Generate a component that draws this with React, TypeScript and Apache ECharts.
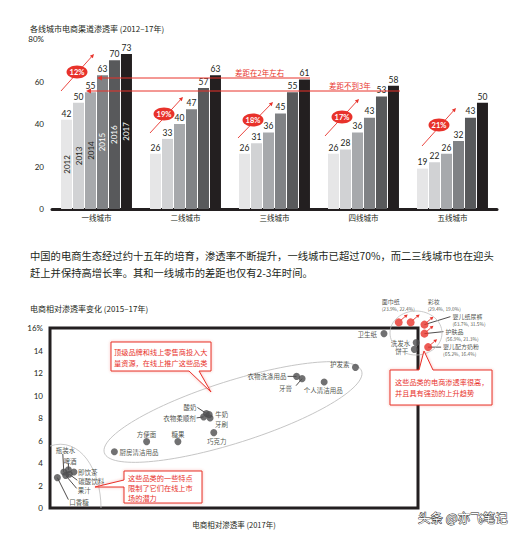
import React, { useEffect, useRef } from 'react';
import * as echarts from 'echarts';

// ---------- top chart data ----------
const cities = ['一线城市', '二线城市', '三线城市', '四线城市', '五线城市'];
const years = ['2012', '2013', '2014', '2015', '2016', '2017'];
const v2012 = [42, 26, 26, 26, 19];
const v2013 = [50, 33, 31, 28, 22];
const v2014 = [55, 40, 36, 36, 26];
const v2015 = [63, 47, 45, 43, 32];
const v2016 = [70, 57, 55, 53, 43];
const v2017 = [73, 63, 61, 58, 50];
const growthLabels = ['12%', '19%', '18%', '17%', '21%'];
const gapNotes = ['差距在2年左右', '差距不到3年'];

// ---------- bottom chart data ----------
const grayNames = ['卫生纸', '洗发水', '饼干', '护发素', '衣物洗涤用品', '牙膏', '个人清洁用品', '酸奶', '衣物柔顺剂', '牛奶', '牙刷', '巧克力', '方便面', '糖果', '厨房清洁用品', '瓶装水', '啤酒', '即饮茶', '碳酸饮料', '果汁', '口香糖'];
const grayX = [36.3, 39.8, 39.6, 33.2, 26.8, 27.4, 29.8, 17.0, 16.7, 17.3, 17.4, 17.8, 10.5, 13.9, 7.0, 1.5, 2.0, 2.6, 2.1, 1.7, 0.8];
const grayY = [15.5, 14.7, 14.1, 12.5, 11.7, 11.5, 11.2, 8.4, 8.1, 8.3, 8.0, 6.7, 5.9, 5.9, 5.0, 3.2, 3.4, 3.2, 3.0, 2.9, 2.7];
const redNames = ['面巾纸', '彩妆', '婴儿纸尿裤', '护肤品', '婴儿配方奶粉'];
const redX = [37.9, 39.2, 40.7, 40.7, 41.1];
const redY = [16.5, 16.5, 16.3, 15.5, 14.3];
const redStats = ['(23.9%, 22.4%)', '(29.4%, 19.0%)', '(63.7%, 31.5%)', '(56.9%, 21.3%)', '(65.2%, 16.4%)'];

// ---------- styles ----------
const RED = '#e8322b';
const INK = '#231f20';
const FONT = "'Noto Sans CJK SC', 'Noto Sans', sans-serif";
const NUMFONT = "Lato, 'Noto Sans CJK SC', sans-serif";
const barColors = ['#e6e6e7', '#d1d2d4', '#a7a9ac', '#808285', '#58595b', '#231f20'];
const yearTextColors = [INK, INK, INK, '#ffffff', '#ffffff', '#ffffff'];

// label offsets for gray points: [dx, dy, align, leaderX, leaderY] (leader null = none)
const grayLabelStyle: any[] = [
  [-7, 0, 'right', null, null],
  [-6, 0, 'right', null, null],
  [-6, 2, 'right', null, null],
  [-6, -3, 'right', null, null],
  [-10, 0, 'right', -9, 0],
  [-10, 9, 'right', -6, 7],
  [-1, 8, 'center', null, null],
  [-10, -7, 'right', -9, -6],
  [-8, 1, 'right', -7, 1],
  [6, -1, 'left', null, null],
  [5, 6, 'left', null, null],
  [3, 8, 'center', null, null],
  [0, -8, 'center', null, null],
  [0, -8, 'center', null, null],
  [5, 0, 'left', null, null],
  [-8, -22, 'left', -1, -18],
  [-5, -9, 'left', 0, -6],
  [4, 0, 'left', null, null],
  [9, 7, 'left', 8, 6],
  [12, 15, 'left', 11, 13],
  [12, 24, 'left', 11, 22],
];
// red label: [dx, dy (top-left of text block), leaderX, leaderY]
const redLabelStyle: any[] = [
  [-17, -24.5, null, null],
  [17, -24.5, null, null],
  [28, -12, 26, -8],
  [21, -6, 19, -2],
  [15, -4.5, 13, 0],
];
// badge/arrow layout for growth annotations (pixels)
const badgePos = [[77, 72], [164, 114], [253, 120], [342, 117], [439, 125]];
const badgeArrows = [[61, 91, 94, 54], [150, 133, 183, 97], [238, 138, 273, 102], [325, 136, 359, 99], [422, 146, 456, 108]];

function arrowEls(x1: number, y1: number, x2: number, y2: number, lw = 0.9, hl = 4, hw = 2.2) {
  const dx = x2 - x1, dy = y2 - y1, L = Math.hypot(dx, dy);
  const ux = dx / L, uy = dy / L;
  const bx = x2 - ux * hl, by = y2 - uy * hl;
  return [
    { type: 'line', z: 20, shape: { x1, y1, x2: bx, y2: by }, style: { stroke: RED, lineWidth: lw } },
    { type: 'polygon', z: 20, shape: { points: [[x2, y2], [bx - uy * hw, by + ux * hw], [bx + uy * hw, by - ux * hw]] }, style: { fill: RED } },
  ];
}

function txt(text: string, x: number, y: number, size: number, fill = INK, align = 'left', extra: any = {}) {
  return { type: 'text', z: 30, x, y, style: { text, fill, fontSize: size, fontFamily: FONT, align, verticalAlign: 'middle', ...extra } };
}

function callout(points: number[][], lines: string[], tx: number, ty: number, lh: number) {
  const els: any[] = [
    { type: 'polygon', z: 40, shape: { points }, style: { fill: '#ffffff', stroke: RED, lineWidth: 1, shadowBlur: 3, shadowColor: 'rgba(232,50,43,0.35)' } },
  ];
  lines.forEach((l, i) => els.push({ ...txt(l, tx, ty + i * lh, 7.2, RED), z: 41 }));
  return els;
}

export default function App() {
  const ref = useRef<HTMLDivElement>(null);
  useEffect(() => {
    const chart = echarts.init(ref.current!, undefined, { renderer: 'svg' });
    const yearVals = [v2012, v2013, v2014, v2015, v2016, v2017];
    const barSeries = years.map((y, i) => ({
      type: 'bar', name: y, xAxisIndex: 0, yAxisIndex: 0, data: yearVals[i],
      barWidth: 11, barGap: '9%', itemStyle: { color: barColors[i] },
      label: { show: true, position: 'top', distance: 2, fontSize: 8.5, color: INK, fontFamily: NUMFONT },
    }));
    const yearSeries = years.map((y, i) => ({
      type: 'bar', name: y + 'l', xAxisIndex: 1, yAxisIndex: 0,
      data: yearVals[i].map((v, j) => (j === 0 ? v : '-')),
      barWidth: 11, barGap: '9%', itemStyle: { color: 'rgba(0,0,0,0)' }, silent: true, z: 5,
      label: { show: true, position: 'inside', rotate: 90, formatter: y, fontSize: 8, color: yearTextColors[i], fontFamily: NUMFONT },
    }));
    const grayData = grayNames.map((n, i) => {
      const s = grayLabelStyle[i];
      return {
        name: n, value: [grayX[i], grayY[i]],
        label: { show: true, formatter: n, position: [3.5 + s[0], 3.5 + s[1]], align: s[2], verticalAlign: 'middle' },
      };
    });
    const redData = redNames.map((n, i) => {
      const s = redLabelStyle[i];
      return {
        name: n, value: [redX[i], redY[i]],
        label: { show: true, formatter: `{n|${n}}\n{c|${redStats[i]}}`, position: [4 + s[0], 4 + s[1]], align: 'left', verticalAlign: 'top' },
      };
    });

    const option: any = {
      animation: false,
      backgroundColor: '#ffffff',
      textStyle: { fontFamily: FONT },
      grid: [
        { left: 52, top: 39, width: 445, height: 170 },
        { left: 50, top: 328, width: 368, height: 180, show: true, borderColor: INK, borderWidth: 3, backgroundColor: 'transparent' },
      ],
      xAxis: [
        {
          type: 'category', gridIndex: 0, data: cities,
          axisLine: { lineStyle: { color: INK, width: 3 } }, axisTick: { show: false },
          axisLabel: { fontSize: 7.5, color: INK, margin: 5, fontFamily: FONT },
        },
        { type: 'category', gridIndex: 0, data: cities, show: false },
        {
          type: 'value', gridIndex: 1, min: 0, max: 40,
          axisLine: { show: false }, axisTick: { show: false }, axisLabel: { show: false }, splitLine: { show: false },
          name: '电商相对渗透率 (2017年)', nameLocation: 'middle', nameGap: 13,
          nameTextStyle: { fontSize: 7.5, color: INK, fontFamily: FONT },
        },
      ],
      yAxis: [
        {
          type: 'value', gridIndex: 0, min: 0, max: 80, interval: 20,
          axisLine: { show: false }, axisTick: { show: false }, splitLine: { show: false },
          axisLabel: { fontSize: 8, color: INK, margin: 8, fontFamily: NUMFONT, formatter: (v: number) => (v === 80 ? '80%' : String(v)) },
        },
        {
          type: 'value', gridIndex: 1, min: 0, max: 16, interval: 2,
          axisLine: { show: false }, axisTick: { show: false }, splitLine: { show: false },
          axisLabel: { fontSize: 8, color: INK, margin: 7, fontFamily: NUMFONT, formatter: (v: number) => (v === 16 ? '16%' : String(v)) },
        },
      ],
      series: [
        ...barSeries,
        ...yearSeries,
        {
          type: 'scatter', name: 'gray', xAxisIndex: 2, yAxisIndex: 1, symbolSize: 7, z: 10,
          itemStyle: { color: '#4d4d4f' }, data: grayData,
          label: { fontSize: 6.5, color: INK, fontFamily: FONT },
        },
        {
          type: 'scatter', name: 'red', xAxisIndex: 2, yAxisIndex: 1, symbolSize: 8, clip: false, z: 12,
          itemStyle: { color: RED }, data: redData,
          label: {
            color: INK, fontFamily: FONT,
            rich: { n: { fontSize: 6, lineHeight: 7.6, color: INK }, c: { fontSize: 4.8, lineHeight: 6.6, color: INK } },
          },
        },
      ],
    };
    chart.setOption(option);

    const px = (x: number, y: number) => chart.convertToPixel({ gridIndex: 1 } as any, [x, y]) as number[];
    const els: any[] = [];
    // titles and paragraph
    els.push(txt('各线城市电商渠道渗透率 (2012–17年)', 30, 28, 8));
    els.push(txt('中国的电商生态经过约十五年的培育，渗透率不断提升，一线城市已超过70%，而二三线城市也在迎头', 30, 255, 10.3));
    els.push(txt('赶上并保持高增长率。其和一线城市的差距也仅有2-3年时间。', 30, 272, 10.3));
    els.push(txt('电商相对渗透率变化 (2015–17年)', 30, 308, 8));
    // gap lines
    els.push(...arrowEls(310, 78, 97, 78, 1, 5, 2.5));
    els.push(...arrowEls(400, 91, 86, 91, 1, 5, 2.5));
    els.push(txt(gapNotes[0], 235, 72, 7.5, RED));
    els.push(txt(gapNotes[1], 329, 85, 7.5, RED));
    // growth badges
    badgeArrows.forEach((a) => els.push(...arrowEls(a[0], a[1], a[2], a[3], 0.9, 4, 2)));
    badgePos.forEach((p, i) => {
      els.push({ type: 'ellipse', z: 25, shape: { cx: p[0], cy: p[1], rx: 10.5, ry: 6.5 }, style: { fill: RED } });
      els.push({ ...txt(growthLabels[i], p[0], p[1], 7.5, '#ffffff', 'center', { fontWeight: 'bold', fontFamily: NUMFONT }), z: 26 });
    });
    // ellipses in scatter
    els.push({ type: 'ellipse', z: 1, x: 233, y: 412, rotation: 0.307, shape: { cx: 0, cy: 0, rx: 135, ry: 31 }, style: { fill: 'none', stroke: '#bdbdbd', lineWidth: 0.8 } });
    els.push({ type: 'bezierCurve', z: 1, shape: { x1: 50, y1: 446, cpx1: 80, cpy1: 436, cpx2: 101, cpy2: 470, x2: 101, y2: 508 }, style: { fill: 'none', stroke: '#bdbdbd', lineWidth: 0.8 } });
    els.push({ type: 'ellipse', z: 15, shape: { cx: 416, cy: 333, rx: 26, ry: 22 }, style: { fill: 'none', stroke: '#bdbdbd', lineWidth: 0.8 } });
    // leader lines for gray points
    grayNames.forEach((_, i) => {
      const s = grayLabelStyle[i];
      if (s[3] === null) return;
      const p = px(grayX[i], grayY[i]);
      els.push({ type: 'line', z: 9, shape: { x1: p[0], y1: p[1], x2: p[0] + s[3], y2: p[1] + s[4] }, style: { stroke: INK, lineWidth: 0.8 } });
    });
    // red points: arrows and leaders
    redNames.forEach((_, i) => {
      const p = px(redX[i], redY[i]);
      els.push(...arrowEls(p[0] + 2, p[1] - 2, p[0] + 9, p[1] - 8, 0.9, 3.5, 1.8).map((e) => ({ ...e, z: 13 })));
      const s = redLabelStyle[i];
      if (s[2] !== null) {
        els.push({ type: 'line', z: 9, shape: { x1: p[0], y1: p[1], x2: p[0] + s[2], y2: p[1] + s[3] }, style: { stroke: INK, lineWidth: 0.8 } });
      }
    });
    // callouts
    els.push(...callout([[111, 342], [211, 342], [211, 371], [199, 371], [211, 392], [189, 371], [111, 371]],
      ['顶级品牌和线上零售商投入大', '量资源，在线上推广这些品类'], 114, 352, 10.5));
    els.push(...callout([[390, 370], [419, 370], [424, 351], [433, 370], [492, 370], [492, 405], [390, 405]],
      ['这些品类的电商渗透率很高，', '并且具有强劲的上升趋势'], 395, 382, 10.5));
    els.push(...callout([[124, 471], [202, 471], [202, 503], [124, 503], [124, 487], [95, 487], [124, 480]],
      ['这些品类的一些特点', '限制了它们在线上市', '场的潜力'], 128, 478, 9.8));
    // watermark
    els.push({ type: 'text', z: 50, x: 418, y: 517, style: { text: '头条 @亦飞笔记', fill: '#ffffff', stroke: '#222222', lineWidth: 0.9, fontSize: 12.5, fontFamily: FONT, verticalAlign: 'middle' } });

    chart.setOption({ graphic: els });
    return () => chart.dispose();
  }, []);
  return <div ref={ref} style={{ position: 'fixed', left: 0, top: 0, width: 525, height: 535, background: '#fff' }} />;
}
